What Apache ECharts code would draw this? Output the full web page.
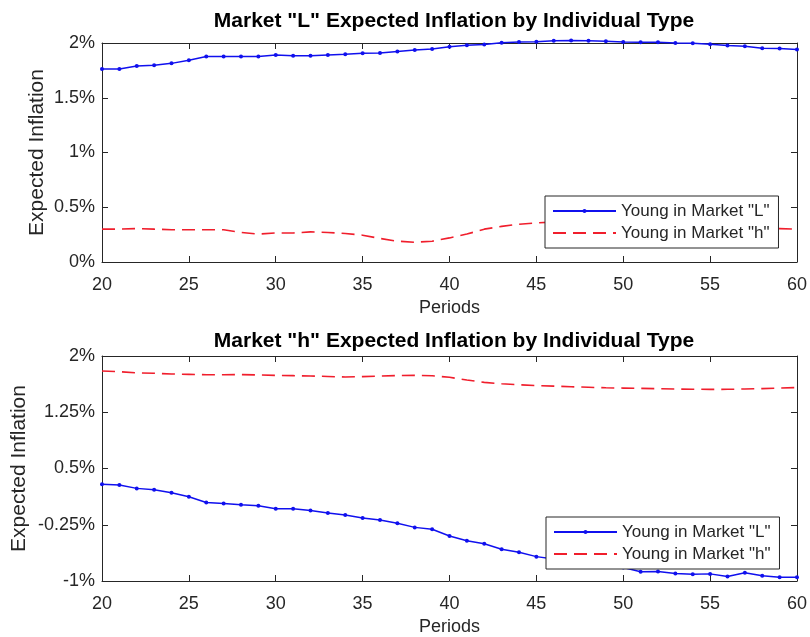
<!DOCTYPE html>
<html>
<head>
<meta charset="utf-8">
<script src="https://cdn.jsdelivr.net/npm/echarts@6/dist/echarts.min.js"></script>
<style>
  html, body { margin: 0; padding: 0; background: #fff; }
  #chart { width: 810px; height: 637px; }
</style>
</head>
<body>
<div id="chart"></div>
<script>
// Periods on the x axis
const periods = [20,21,22,23,24,25,26,27,28,29,30,31,32,33,34,35,36,37,38,39,40,
                 41,42,43,44,45,46,47,48,49,50,51,52,53,54,55,56,57,58,59,60];

// Market "L": expected inflation (%) by individual type
const marketL_youngL = [1.763,1.763,1.79,1.797,1.814,1.843,1.877,1.877,1.877,1.877,1.89,
                        1.883,1.883,1.89,1.897,1.906,1.909,1.923,1.937,1.946,1.966,
                        1.98,1.986,2.003,2.009,2.011,2.02,2.023,2.02,2.017,2.009,
                        2.006,2.006,2.0,1.997,1.989,1.977,1.971,1.951,1.949,1.94];
const marketL_youngH = [0.30,0.30,0.305,0.30,0.295,0.295,0.295,0.295,0.27,0.255,0.265,
                        0.265,0.275,0.27,0.26,0.245,0.215,0.19,0.18,0.19,0.22,
                        0.255,0.30,0.325,0.345,0.357,0.365,0.37,0.37,0.365,0.36,
                        0.355,0.35,0.34,0.335,0.33,0.32,0.315,0.31,0.305,0.30];

// Market "h": expected inflation (%) by individual type
const marketH_youngL = [0.289,0.28,0.235,0.217,0.177,0.123,0.047,0.034,0.016,0.002,-0.038,
                        -0.038,-0.06,-0.092,-0.12,-0.16,-0.187,-0.23,-0.285,-0.31,-0.40,
                        -0.464,-0.504,-0.576,-0.617,-0.675,-0.706,-0.74,-0.77,-0.795,-0.82,
                        -0.877,-0.872,-0.90,-0.91,-0.905,-0.94,-0.89,-0.93,-0.95,-0.95];
const marketH_youngH = [1.80,1.79,1.775,1.77,1.76,1.755,1.75,1.75,1.752,1.748,1.742,
                        1.738,1.733,1.727,1.72,1.725,1.733,1.74,1.742,1.737,1.716,
                        1.68,1.648,1.63,1.617,1.606,1.598,1.59,1.583,1.576,1.572,
                        1.568,1.564,1.56,1.557,1.555,1.556,1.56,1.565,1.572,1.58];

const titles = ['Market "L" Expected Inflation by Individual Type',
                'Market "h" Expected Inflation by Individual Type'];
const seriesNames = ['Young in Market "L"', 'Young in Market "h"'];

const ink = '#262626';
const blue = '#1010ee';
const red = '#f01e2c';
const font = 'Liberation Sans, Arial, Helvetica, sans-serif';

const pct = v => (+v.toFixed(2)) + '%';
const pairs = arr => periods.map((p, i) => [p, arr[i]]);

const grids = [
  { left: 102, right: 13, top: 43, height: 219 },
  { left: 102, right: 13, top: 356, height: 225 }
];
const yRanges = [
  { min: 0, max: 2, interval: 0.5 },
  { min: -1, max: 2, interval: 0.75 }
];

const xAxes = [];
const yAxes = [];
grids.forEach((g, gi) => {
  const baseX = {
    type: 'value', gridIndex: gi, min: 20, max: 60, interval: 5,
    axisLine: { show: true, onZero: false, lineStyle: { color: ink, width: 1 } },
    axisTick: { show: true, inside: true, length: 6, lineStyle: { color: ink } },
    splitLine: { show: false }
  };
  xAxes.push(Object.assign({}, baseX, {
    position: 'bottom',
    name: 'Periods', nameLocation: 'middle', nameGap: 37,
    nameTextStyle: { fontFamily: font, fontSize: 18, color: ink },
    axisLabel: { show: true, margin: 14, fontFamily: font, fontSize: 18, color: ink }
  }));
  xAxes.push(Object.assign({}, baseX, { position: 'top', axisLabel: { show: false } }));

  const baseY = Object.assign({ type: 'value', gridIndex: gi }, yRanges[gi], {
    axisLine: { show: true, onZero: false, lineStyle: { color: ink, width: 1 } },
    axisTick: { show: true, inside: true, length: 6, lineStyle: { color: ink } },
    splitLine: { show: false }
  });
  yAxes.push(Object.assign({}, baseY, {
    position: 'left',
    name: 'Expected Inflation', nameLocation: 'middle',
    nameGap: gi === 0 ? 54 : 72, nameMoveOverlap: false,
    nameTextStyle: { fontFamily: font, fontSize: 21, color: ink },
    axisLabel: { show: true, margin: 7, fontFamily: font, fontSize: 18, color: ink, formatter: pct }
  }));
  yAxes.push(Object.assign({}, baseY, { position: 'right', axisLabel: { show: false } }));
});

function youngL(gi, data) {
  return {
    name: seriesNames[0], type: 'line', xAxisIndex: gi * 2, yAxisIndex: gi * 2,
    data: pairs(data), symbol: 'circle', symbolSize: 4, showSymbol: true, clip: false,
    lineStyle: { color: blue, width: 1.5 }, itemStyle: { color: blue },
    animation: false
  };
}
function youngH(gi, data) {
  return {
    name: seriesNames[1], type: 'line', xAxisIndex: gi * 2, yAxisIndex: gi * 2,
    data: pairs(data), symbol: 'none', clip: false,
    lineStyle: { color: red, width: 1.6, type: [13, 7] }, itemStyle: { color: red },
    animation: false
  };
}

function legendAt(left, top) {
  return {
    left: left, top: top, orient: 'vertical',
    data: [
      { name: seriesNames[0] },
      { name: seriesNames[1], itemStyle: { opacity: 0 } }
    ],
    itemWidth: 63, itemHeight: 5, itemGap: 2,
    padding: [5, 9, 5, 7],
    backgroundColor: '#fff', borderColor: ink, borderWidth: 1, borderRadius: 0,
    textStyle: { fontFamily: font, fontSize: 17, color: ink, lineHeight: 20 },
    selectedMode: false
  };
}

const chart = echarts.init(document.getElementById('chart'), null, { renderer: 'canvas' });
chart.setOption({
  animation: false,
  backgroundColor: '#fff',
  title: [
    { text: titles[0], left: 449, top: 6, textAlign: 'center',
      textStyle: { fontFamily: font, fontSize: 21, fontWeight: 'bold', color: '#000' } },
    { text: titles[1], left: 449, top: 326, textAlign: 'center',
      textStyle: { fontFamily: font, fontSize: 21, fontWeight: 'bold', color: '#000' } }
  ],
  legend: [legendAt(545, 196), legendAt(546, 517)],
  grid: grids,
  xAxis: xAxes,
  yAxis: yAxes,
  series: [
    youngL(0, marketL_youngL), youngH(0, marketL_youngH),
    youngL(1, marketH_youngL), youngH(1, marketH_youngH)
  ]
});
</script>
</body>
</html>
